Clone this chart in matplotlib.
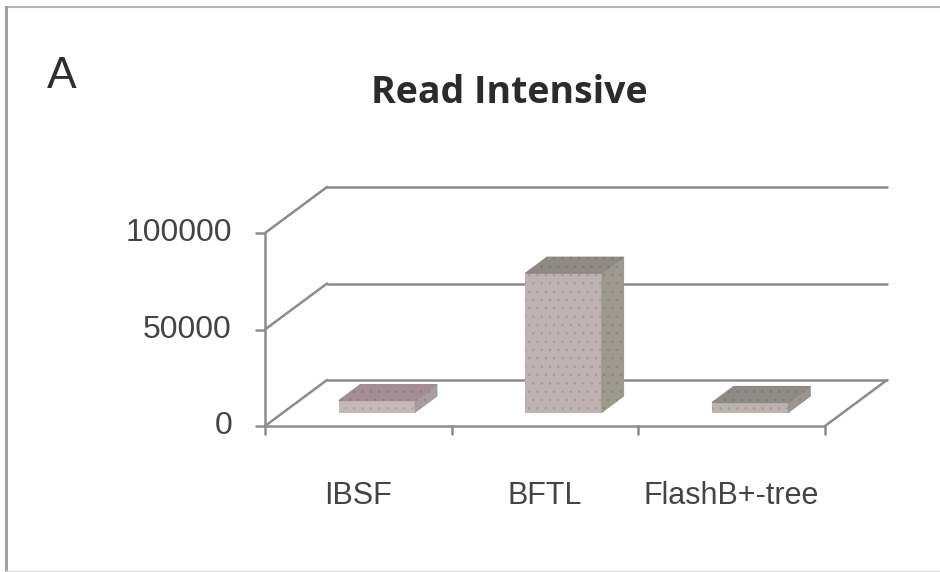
import matplotlib
matplotlib.use("Agg")
import matplotlib.pyplot as plt
from matplotlib.patches import Polygon
from matplotlib.lines import Line2D

# ---- data ----
categories = ["IBSF", "BFTL", "FlashB+-tree"]
values = [6000, 72000, 5000]
y_ticks = [0, 50000, 100000]
y_tick_labels = ["0", "50000", "100000"]
title = "Read Intensive"
panel_label = "A"

# ---- layout (pixel geometry of the pseudo-3D box) ----
W, H, DPI = 940, 572, 100
X0_PX, Y0_PX = 265, 426          # front-left floor corner
CAT_PX = 560 / 3                 # pixels per category
VAL_PX = 193 / 100000            # pixels per value unit
DEPTH_PX = (62, 46)              # floor depth offset (right, up)

fig = plt.figure(figsize=(W / DPI, H / DPI), dpi=DPI)
ax = fig.add_axes([0, 0, 1, 1])
ax.set_xlim((0 - X0_PX) / CAT_PX, (W - X0_PX) / CAT_PX)
ax.set_ylim((Y0_PX - H) / VAL_PX, Y0_PX / VAL_PX)
ax.axis("off")

DX = DEPTH_PX[0] / CAT_PX
DY = DEPTH_PX[1] / VAL_PX
px_x = 1 / CAT_PX
px_y = 1 / VAL_PX
n = len(categories)

grid_kw = dict(color="#8c8c8c", lw=1.8, solid_capstyle="round", zorder=1)

# back wall gridlines and left wall diagonals
for v in y_ticks:
    ax.plot([DX, n + DX], [v + DY, v + DY], **grid_kw)
    ax.plot([0, DX], [v, v + DY], **grid_kw)
    ax.plot([-9 * px_x, 0], [v, v], **grid_kw)          # y tick mark

# front vertical axis, floor front edge and right floor edge
ax.plot([0, 0], [0, y_ticks[-1]], **grid_kw)
ax.plot([0, n], [0, 0], **grid_kw)
ax.plot([n, n + DX], [0, DY], **grid_kw)
for i in range(n + 1):
    ax.plot([i, i], [0, -8 * px_y], **grid_kw)

# y tick labels
for v, lab in zip(y_ticks, y_tick_labels):
    ax.text(-33 * px_x, v, lab, ha="right", va="center",
            fontsize=23, family="Liberation Sans", color="#444444")

# category labels
for i, lab in enumerate(categories):
    ax.text(i + 0.5, -70 * px_y, lab, ha="center", va="center",
            fontsize=22, family="Liberation Sans", color="#444444")

# pseudo-3D columns
bar_w = 0.41
z0, z1 = 0.30, 0.65
face_cols = [
    dict(front="#c6b8b8", side="#a89ca0", top="#a48d95"),
    dict(front="#bdb3b2", side="#9d998e", top="#8f8b82"),
    dict(front="#b9b2ae", side="#9a968f", top="#8e8a86"),
]
plt.rcParams["hatch.linewidth"] = 0.6
for i, (v, c) in enumerate(zip(values, face_cols)):
    xl = i + 0.5 - bar_w / 2 + z0 * DX
    xr = i + 0.5 + bar_w / 2 + z0 * DX
    yb = z0 * DY
    ddx = (z1 - z0) * DX
    ddy = (z1 - z0) * DY
    front = [(xl, yb), (xr, yb), (xr, yb + v), (xl, yb + v)]
    side = [(xr, yb), (xr + ddx, yb + ddy), (xr + ddx, yb + v + ddy), (xr, yb + v)]
    top = [(xl, yb + v), (xr, yb + v), (xr + ddx, yb + v + ddy), (xl + ddx, yb + v + ddy)]
    for pts, col in ((front, c["front"]), (side, c["side"]), (top, c["top"])):
        ax.add_patch(Polygon(pts, closed=True, facecolor=col, edgecolor=col,
                             lw=0.8, zorder=3))
        ax.add_patch(Polygon(pts, closed=True, facecolor="none",
                             edgecolor="#00000018", lw=0, hatch="..", zorder=3))

# title and panel label
fig.text(509 / W, 1 - 93 / H, title, ha="center", va="center",
         fontsize=27, fontweight="bold", family="Open Sans", color="#2b2b2b")
fig.text(62 / W, 1 - 76 / H, panel_label, ha="center", va="center",
         fontsize=32, family="Liberation Sans", color="#2e2e2e")

# outer frame
fig.add_artist(Line2D([6 / W, 1], [1 - 7 / H, 1 - 7 / H], transform=fig.transFigure,
                      color="#b5b5b5", lw=1.5))
fig.add_artist(Line2D([6 / W, 6 / W], [0, 1 - 7 / H], transform=fig.transFigure,
                      color="#9a9a9a", lw=2))
fig.add_artist(Line2D([6 / W, 1], [1 / H, 1 / H], transform=fig.transFigure,
                      color="#dddddd", lw=1))

fig.savefig("out.png", dpi=DPI, facecolor="white")
